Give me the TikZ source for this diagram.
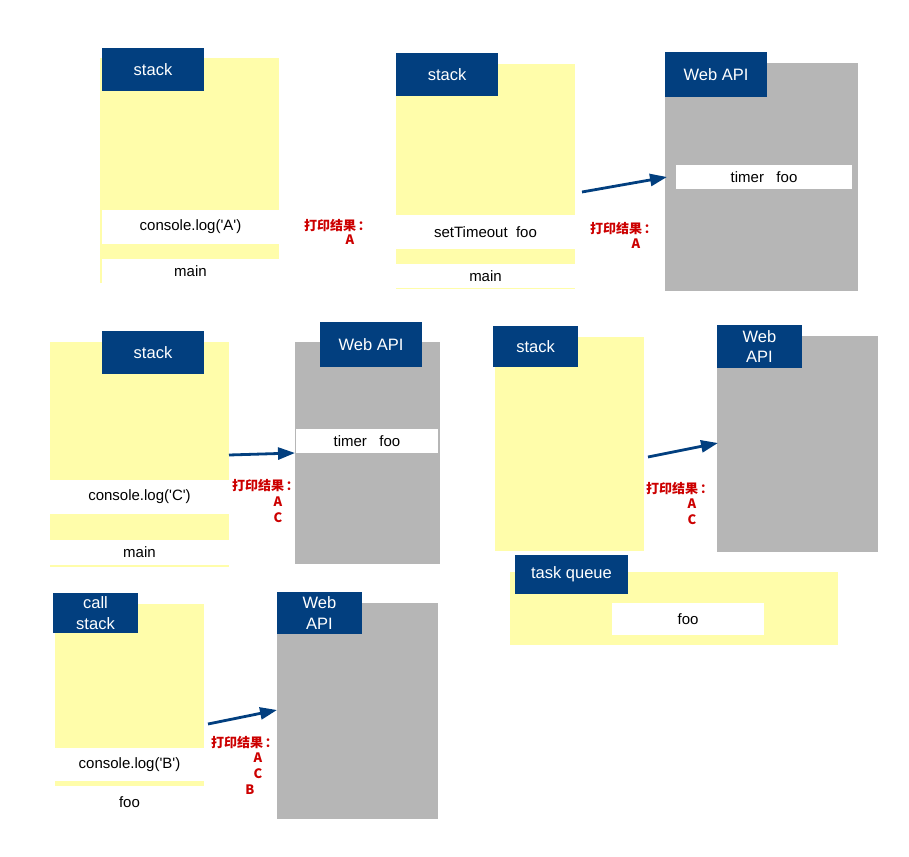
\documentclass[tikz,border=0pt]{standalone}
\usepackage{fontspec}
\setmainfont{Liberation Sans}
\newfontfamily\cjk{Noto Sans CJK SC}
\usetikzlibrary{arrows.meta}
\definecolor{ylw}{HTML}{FFFDAA}
\definecolor{navy}{HTML}{023F7F}
\definecolor{gry}{HTML}{B6B6B6}
\definecolor{red}{HTML}{CC0000}
\tikzset{
  box/.style={anchor=north west, inner sep=0pt, outer sep=0pt, draw=none},
  ybox/.style={box, fill=ylw},
  gbox/.style={box, fill=gry},
  wrow/.style={box, fill=white, font=\fontsize{15}{18}\selectfont, text=black},
  hdr/.style={box, fill=navy, text=white, align=center, font=\fontsize{16.5}{20.5}\selectfont},
  lbl/.style={inner sep=0pt, text=red, font=\cjk\bfseries\fontsize{13}{15}\selectfont},
  arr/.style={draw=navy, line width=2.8pt, -{Triangle[length=17pt,width=12pt]}},
  sz/.style 2 args={minimum width=#1pt, minimum height=#2pt},
}
\newcommand\res{打印结果\hspace{2pt}：}
\newcommand\q{\textquotesingle}
\begin{document}
\begin{tikzpicture}[x=1pt,y=-1pt]
\useasboundingbox (0,0) rectangle (909,856);
% ---------------- panel 1
\node[ybox, sz={179}{225}] (y1) at (100,58) {};
\node[hdr, sz={102}{43}] (h1) at (102,48) {stack};
\node[wrow, sz={177}{34}] (r1a) at (102,210) {console.log(\q A\q)};
\node[wrow, sz={177}{24}] (r1b) at (102,259) {main};
\node[lbl] (l1a) at (337.5,225.5) {\res};
\node[lbl] (l1b) at (350,240) {A};
% ---------------- panel 2
\node[ybox, sz={179}{225}] (y2) at (396,64) {};
\node[hdr, sz={102}{43}] (h2) at (396,53) {stack};
\node[wrow, sz={179}{34}] (r2a) at (396,215) {setTimeout\ \ foo};
\node[wrow, sz={179}{24}] (r2b) at (396,264) {main};
\node[gbox, sz={193}{228}] (w2) at (665,63) {};
\node[hdr, sz={102}{45}] (wh2) at (665,52) {Web API};
\node[wrow, sz={176}{24}] (t2) at (676,165) {timer\ \ \ foo};
\coordinate (a2s) at (582,192);
\coordinate (a2e) at (667,177);
\draw[arr] (a2s) -- (a2e);
\node[lbl] (l2a) at (623.5,229) {\res};
\node[lbl] (l2b) at (636,244) {A};
% ---------------- panel 3
\node[ybox, sz={179}{225}] (y3) at (50,342) {};
\node[hdr, sz={102}{43}] (h3) at (102,331) {stack};
\node[wrow, sz={179}{34}] (r3a) at (50,480) {console.log(\q C\q)};
\node[wrow, sz={179}{25}] (r3b) at (50,540) {main};
\node[gbox, sz={145}{222}] (w3) at (295,342) {};
\node[hdr, sz={102}{45}] (wh3) at (320,322) {Web API};
\node[wrow, sz={142}{24}] (t3) at (296,429) {timer\ \ \ foo};
\coordinate (a3s) at (229,455);
\coordinate (a3e) at (295,453);
\draw[arr] (a3s) -- (a3e);
\node[lbl] (l3a) at (265.5,485.5) {\res};
\node[lbl] (l3b) at (278,501.5) {A};
\node[lbl] (l3c) at (278,517.5) {C};
% ---------------- panel 4
\node[ybox, sz={149}{214}] (y4) at (495,337) {};
\node[hdr, sz={85}{41}] (h4) at (493,326) {stack};
\node[gbox, sz={161}{216}] (w4) at (717,336) {};
\node[hdr, sz={85}{43}] (wh4) at (717,325) {Web\\API};
\coordinate (a4s) at (648,457);
\coordinate (a4e) at (718,443);
\draw[arr] (a4s) -- (a4e);
\node[lbl] (l4a) at (679.5,489) {\res};
\node[lbl] (l4b) at (692,504) {A};
\node[lbl] (l4c) at (692,520) {C};
\node[ybox, sz={328}{73}] (q4) at (510,572) {};
\node[hdr, sz={113}{39}] (qh4) at (515,555) {task queue};
\node[wrow, sz={152}{32}] (f4) at (612,603) {foo};
% ---------------- panel 5
\node[ybox, sz={149}{182}] (y5) at (55,604) {};
\node[hdr, sz={85}{40}] (h5) at (53,593) {call\\stack};
\node[wrow, sz={149}{33}] (r5a) at (55,748) {console.log(\q B\q)};
\node[wrow, sz={149}{32}] (r5b) at (55,786) {foo};
\node[gbox, sz={161}{216}] (w5) at (277,603) {};
\node[hdr, sz={85}{42}] (wh5) at (277,592) {Web\\API};
\coordinate (a5s) at (208,724);
\coordinate (a5e) at (277,710);
\draw[arr] (a5s) -- (a5e);
\node[lbl] (l5a) at (244.5,742.5) {\res};
\node[lbl] (l5b) at (258,758) {A};
\node[lbl] (l5c) at (258,774) {C};
\node[lbl] (l5d) at (250,790) {B};
\end{tikzpicture}
\end{document}
